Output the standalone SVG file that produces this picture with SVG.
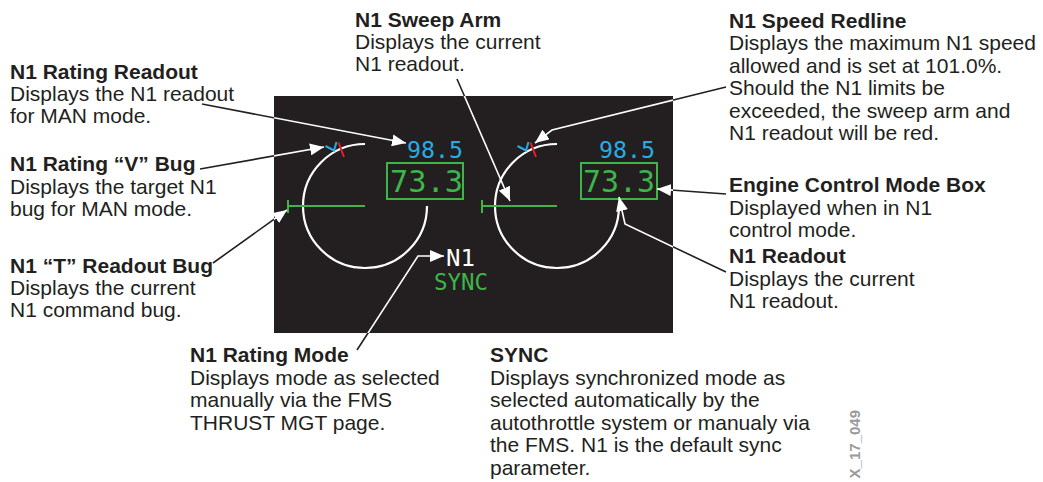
<svg xmlns="http://www.w3.org/2000/svg" width="1043" height="482" viewBox="0 0 1043 482">
<style>
.t{font-family:"Liberation Sans",Arial,Helvetica,sans-serif;font-size:21px;fill:#231f20}
.b{font-weight:bold}
.m{font-family:"DejaVu Sans Mono","Liberation Mono",monospace}
.arc{fill:none;stroke:#fff;stroke-width:2.2}
.ndl{fill:none;stroke:#3db54a;stroke-width:2}
.box{fill:none;stroke:#3db54a;stroke-width:2}
.cy{fill:none;stroke:#29abe2;stroke-width:2}
.rd{fill:none;stroke:#ed1c24;stroke-width:2}
.ldk{fill:none;stroke:#231f20;stroke-width:1.6}
.lwt{fill:none;stroke:#fff;stroke-width:1.6}
</style>
<defs>
<marker id="ah" markerUnits="userSpaceOnUse" markerWidth="15" markerHeight="12" refX="14" refY="6" orient="auto">
<path d="M0,0 L14,6 L0,12 Z" fill="#fff"/>
</marker>
<clipPath id="inside"><rect x="274" y="96" width="399" height="237"/></clipPath>
<clipPath id="outside"><path clip-rule="evenodd" d="M0 0H1043V482H0Z M274 96V333H673V96Z"/></clipPath>
</defs>
<rect x="0" y="0" width="1043" height="482" fill="#fff"/>

<g id="display">
<rect x="274" y="96" width="399" height="237" fill="#231f20"/>
</g>

<g id="gauge-left">
<path class="arc" d="M427 206 A62 62 0 1 1 365 144"/>
<path class="ndl" d="M288 206H365 M288 200V213"/>
<polyline class="cy" points="325.5,146 334,150.5 336.5,142"/>
<line class="rd" x1="338.5" y1="142.5" x2="344" y2="157"/>
<text class="m" x="407" y="158" font-size="22.5" fill="#29abe2" textLength="56" lengthAdjust="spacingAndGlyphs">98.5</text>
<rect class="box" x="387" y="163" width="76" height="36"/>
<text class="m" x="390" y="192" font-size="30" fill="#3db54a" textLength="73" lengthAdjust="spacingAndGlyphs">73.3</text>
</g>

<g id="gauge-right">
<path class="arc" d="M619 206 A62 62 0 1 1 557 144"/>
<path class="ndl" d="M482 206H557 M482 200V213"/>
<polyline class="cy" points="517.5,146 526,150.5 528.5,142"/>
<line class="rd" x1="530.5" y1="142.5" x2="536" y2="157"/>
<text class="m" x="599" y="158" font-size="22.5" fill="#29abe2" textLength="56" lengthAdjust="spacingAndGlyphs">98.5</text>
<rect class="box" x="581" y="163" width="76" height="36"/>
<text class="m" x="583" y="192" font-size="30" fill="#3db54a" textLength="72" lengthAdjust="spacingAndGlyphs">73.3</text>
</g>

<g id="mode">
<text class="m" x="446" y="266" font-size="23" fill="#fff" textLength="29" lengthAdjust="spacingAndGlyphs">N1</text>
<text class="m" x="434" y="290" font-size="23" fill="#3db54a" textLength="54" lengthAdjust="spacingAndGlyphs">SYNC</text>
</g>

<g id="connectors">
<g clip-path="url(#outside)">
<polyline class="ldk" points="202,104 406,143"/>
<polyline class="ldk" points="200,169 324,147"/>
<polyline class="ldk" points="213,263 287,210"/>
<polyline class="ldk" points="457,79 510,201"/>
<polyline class="ldk" points="726,87 552,130 535,143"/>
<polyline class="ldk" points="726,194 657,189"/>
<polyline class="ldk" points="726,272 625,224 619,197"/>
<polyline class="ldk" points="357,350 418,256 444,256"/>
</g>
<g clip-path="url(#inside)">
<polyline class="lwt" marker-end="url(#ah)" points="202,104 406,143"/>
<polyline class="lwt" marker-end="url(#ah)" points="200,169 324,147"/>
<polyline class="lwt" marker-end="url(#ah)" points="213,263 287,210"/>
<polyline class="lwt" marker-end="url(#ah)" points="457,79 510,201"/>
<polyline class="lwt" marker-end="url(#ah)" points="726,87 552,130 535,143"/>
<polyline class="lwt" marker-end="url(#ah)" points="726,194 657,189"/>
<polyline class="lwt" marker-end="url(#ah)" points="726,272 625,224 619,197"/>
<polyline class="lwt" marker-end="url(#ah)" points="357,350 418,256 444,256"/>
</g>
</g>

<g id="label-rating-readout">
<text class="t b" x="10" y="79">N1 Rating Readout</text>
<text class="t" x="10" y="101">Displays the N1 readout</text>
<text class="t" x="10" y="123">for MAN mode.</text>
</g>
<g id="label-v-bug">
<text class="t b" x="10" y="171">N1 Rating “V” Bug</text>
<text class="t" x="10" y="193.5">Displays the target N1</text>
<text class="t" x="10" y="216">bug for MAN mode.</text>
</g>
<g id="label-t-bug">
<text class="t b" x="10" y="272.5">N1 “T” Readout Bug</text>
<text class="t" x="10" y="295">Displays the current</text>
<text class="t" x="10" y="317">N1 command bug.</text>
</g>
<g id="label-sweep-arm">
<text class="t b" x="355" y="27">N1 Sweep Arm</text>
<text class="t" x="355" y="49">Displays the current</text>
<text class="t" x="355" y="71">N1 readout.</text>
</g>
<g id="label-redline">
<text class="t b" x="729" y="28">N1 Speed Redline</text>
<text class="t" x="729" y="50.4">Displays the maximum N1 speed</text>
<text class="t" x="729" y="72.8">allowed and is set at 101.0%.</text>
<text class="t" x="729" y="95.2">Should the N1 limits be</text>
<text class="t" x="729" y="117.6">exceeded, the sweep arm and</text>
<text class="t" x="729" y="140">N1 readout will be red.</text>
</g>
<g id="label-ecm-box">
<text class="t b" x="729" y="192">Engine Control Mode Box</text>
<text class="t" x="729" y="214.5">Displayed when in N1</text>
<text class="t" x="729" y="237">control mode.</text>
</g>
<g id="label-n1-readout">
<text class="t b" x="729" y="263">N1 Readout</text>
<text class="t" x="729" y="285.5">Displays the current</text>
<text class="t" x="729" y="308">N1 readout.</text>
</g>
<g id="label-rating-mode">
<text class="t b" x="190" y="362">N1 Rating Mode</text>
<text class="t" x="190" y="384.5">Displays mode as selected</text>
<text class="t" x="190" y="407">manually via the FMS</text>
<text class="t" x="190" y="429.5">THRUST MGT page.</text>
</g>
<g id="label-sync">
<text class="t b" x="490" y="362">SYNC</text>
<text class="t" x="490" y="384.5">Displays synchronized mode as</text>
<text class="t" x="490" y="407">selected automatically by the</text>
<text class="t" x="490" y="429.5">autothrottle system or manualy via</text>
<text class="t" x="490" y="452">the FMS. N1 is the default sync</text>
<text class="t" x="490" y="474.5">parameter.</text>
</g>
<g id="figure-id">
<text x="860" y="410" transform="rotate(-90 860 410)" text-anchor="end" font-family="Liberation Sans,Arial,sans-serif" font-weight="bold" font-size="15" fill="#9a9a9a">X_17_049</text>
</g>
</svg>
